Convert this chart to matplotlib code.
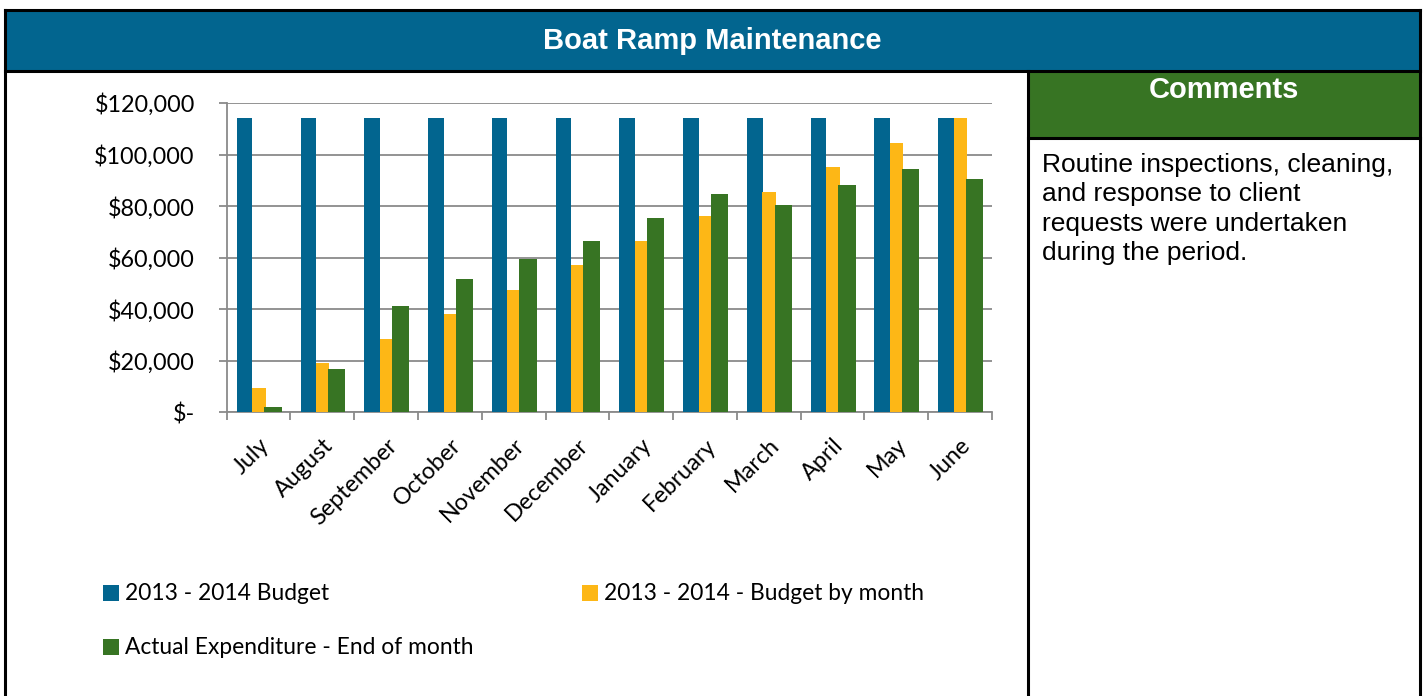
import matplotlib
matplotlib.use("Agg")
import matplotlib.pyplot as plt
from matplotlib.patches import Rectangle
import matplotlib.transforms as mtransforms
import numpy as np

months = ["July", "August", "September", "October", "November", "December",
          "January", "February", "March", "April", "May", "June"]
budget = [114000] * 12
budget_by_month = [9500, 19000, 28500, 38000, 47500, 57000,
                   66500, 76000, 85500, 95000, 104500, 114000]
actual = [2200, 16900, 41100, 51800, 59300, 66400,
          75400, 84700, 80600, 88200, 94200, 90700]
series_names = ["2013 - 2014 Budget", "2013 - 2014 - Budget by month",
                "Actual Expenditure - End of month"]
yticks = [0, 20000, 40000, 60000, 80000, 100000, 120000]
ytick_labels = ["$-", "$20,000", "$40,000", "$60,000", "$80,000", "$100,000", "$120,000"]
title = "Boat Ramp Maintenance"
comments_title = "Comments"
comments_text = ("Routine inspections, cleaning,\nand response to client\n"
                 "requests were undertaken\nduring the period.")

BLUE = "#02658F"
YELLOW = "#FDB716"
GREEN = "#377423"
GRID = "#8a8a8a"
FS = 16.8

W, H = 1425, 696
fig = plt.figure(figsize=(W / 100, H / 100), dpi=100)

# background / frame axes in pixel coords
bg = fig.add_axes([0, 0, 1, 1], zorder=0)
bg.set_xlim(0, W)
bg.set_ylim(H, 0)
bg.axis("off")

bg.add_patch(Rectangle((5, 10), 1415, 61, facecolor=BLUE, edgecolor="none"))
bg.add_patch(Rectangle((1028, 71), 392, 66, facecolor=GREEN, edgecolor="none"))
lw = 2.2
bg.plot([5, 1420], [10, 10], color="black", lw=lw)
bg.plot([5, 1420], [71, 71], color="black", lw=lw)
bg.plot([5, 5], [10, H], color="black", lw=lw)
bg.plot([1420, 1420], [10, H], color="black", lw=lw)
bg.plot([1028, 1028], [71, H], color="black", lw=lw)
bg.plot([1028, 1420], [137.5, 137.5], color="black", lw=lw)

bg.text(712.5, 41, title, color="white", fontsize=21, fontweight="bold",
        family="Liberation Sans", ha="center", va="center")
bg.text(1224, 90, comments_title, color="white", fontsize=21, fontweight="bold",
        family="Liberation Sans", ha="center", va="center")
bg.text(1042, 153, comments_text, color="black", fontsize=19,
        family="Liberation Sans", ha="left", va="top", linespacing=1.28)

# chart axes
ax_left, ax_right, ax_top, ax_bot = 226.7, 992, 103, 412.3
ax = fig.add_axes([ax_left / W, 1 - ax_bot / H, (ax_right - ax_left) / W,
                   (ax_bot - ax_top) / H], zorder=1)
ax.set_facecolor("none")

x = np.arange(len(months))
ax.bar(x - 0.22, budget, width=0.245, color=BLUE, zorder=3)
ax.bar(x + 0.005, budget_by_month, width=0.21, color=YELLOW, zorder=4)
ax.bar(x + 0.225, actual, width=0.27, color=GREEN, zorder=5)

ax.set_xlim(-0.5, len(months) - 0.5)
ax.set_ylim(0, 120000)
ax.set_yticks(yticks)
ax.set_yticklabels(ytick_labels, family="Lato", fontsize=FS)
ax.grid(axis="y", color=GRID, lw=1.3, zorder=1)
ax.set_axisbelow(True)

ax.set_xticks(x)
ax.set_xticklabels(months, rotation=45, ha="right", va="top",
                   rotation_mode="anchor", family="Lato", fontsize=FS)
offset = mtransforms.ScaledTranslation(0.0, 0, fig.dpi_scale_trans)
for lab in ax.get_xticklabels():
    lab.set_transform(lab.get_transform() + offset)
ax.set_xticks(np.arange(len(months) + 1) - 0.5, minor=True)
ax.tick_params(axis="x", which="major", length=0, pad=16)
ax.tick_params(axis="x", which="minor", length=6, width=1.3, color=GRID, direction="out")
ax.tick_params(axis="y", length=6, width=1.3, color=GRID, pad=17)

for s in ["top", "right"]:
    ax.spines[s].set_visible(False)
for s in ["left", "bottom"]:
    ax.spines[s].set_color(GRID)
    ax.spines[s].set_linewidth(1.3)

# legend (manual placement)
legend_items = [(103, 593, BLUE, series_names[0]),
                (582, 593, YELLOW, series_names[1]),
                (103, 647, GREEN, series_names[2])]
for lx, ly, col, name in legend_items:
    bg.add_patch(Rectangle((lx, ly - 8), 16, 16, facecolor=col, edgecolor="none"))
    bg.text(lx + 22, ly, name, family="Lato", fontsize=16.4, ha="left",
            va="center", color="black")

fig.savefig("out.png", dpi=100)
